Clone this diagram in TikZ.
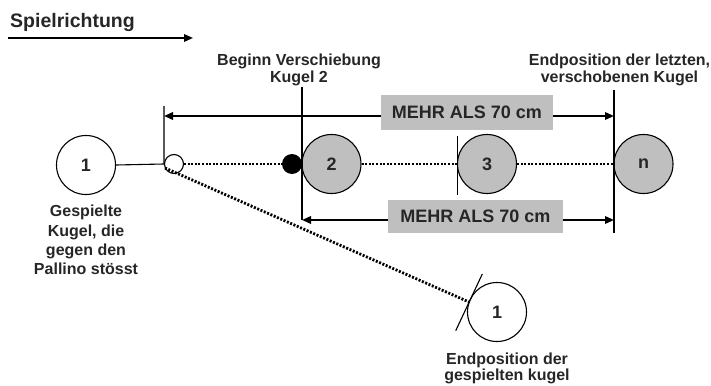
\documentclass[tikz,border=0pt]{standalone}
\usepackage{fontspec}
\setmainfont{Liberation Sans}
\usetikzlibrary{arrows.meta}
\definecolor{txtc}{rgb}{0.15,0.15,0.15}
\definecolor{ballgray}{rgb}{0.75,0.75,0.75}
\definecolor{boxgray}{rgb}{0.75,0.75,0.75}
\begin{document}
\begin{tikzpicture}[x=1pt,y=-1pt,
  txt/.style={text=txtc,font=\bfseries\fontsize{16}{17}\selectfont,align=center,inner sep=0pt},
  ballw/.style={circle,draw,line width=1.1pt,fill=white,minimum size=59pt,inner sep=0pt,text=txtc,font=\bfseries\fontsize{18}{18}\selectfont},
  ballg/.style={ballw,fill=ballgray},
  thin line/.style={line width=1.1pt},
  dots/.style={line width=2.8pt,dash pattern=on 2pt off 1.6pt},
  dimarr/.style={line width=1.9pt,{Triangle[length=9pt,width=7.5pt]}-{Triangle[length=9pt,width=7.5pt]}},
  labbox/.style={fill=boxgray,text=txtc,font=\bfseries\fontsize{18}{18}\selectfont,inner sep=0pt}
]
\useasboundingbox (0,0) rectangle (711,385);

% Spielrichtung
\node[txt,font=\bfseries\fontsize{19.5}{20}\selectfont,anchor=base west] (title) at (10,28) {Spielrichtung};
\coordinate (sa) at (8,38);
\coordinate (sb) at (193,38);
\draw[line width=1.9pt,-{Triangle[length=9pt,width=7.5pt]}] (sa) -- (sb);

% balls
\node[ballw] (b1) at (86,165) {1};
\node[circle,draw,thin line,fill=white,minimum size=19pt,inner sep=0pt] (sm) at (174,164) {};
\node[circle,fill=black,minimum size=20pt,inner sep=0pt] (bk) at (292,164) {};
\node[ballg] (b2) at (331.5,164) {2};
\node[ballg] (b3) at (487,164) {3};
\node[ballg] (bn) at (643.5,164) {n};
\node[ballw] (b1e) at (497,312) {1};

% texts
\node[txt,anchor=north,font=\bfseries\fontsize{16}{17}\selectfont] (beg) at (299,54) {Beginn Verschiebung\\Kugel 2};
\node[txt,anchor=north,font=\bfseries\fontsize{16}{17}\selectfont] (endl) at (619.5,54) {Endposition der letzten,\\verschobenen Kugel};
\node[txt,anchor=north,font=\bfseries\fontsize{16}{19.4}\selectfont] (gesp) at (86,205) {Gespielte\\Kugel, die\\gegen den\\Pallino stösst};
\node[txt,anchor=north,font=\bfseries\fontsize{16}{16.5}\selectfont] (endg) at (507,352.5) {Endposition der\\gespielten kugel};

% solid connector
\draw[thin line] (b1.east) -- (sm.west);

% vertical reference lines
\coordinate (v1t) at (164,106);
\draw[thin line] (v1t) -- (sm.west);
\coordinate (v2t) at (302,87);
\coordinate (v2b) at (302,220);
\draw[thin line] (v2t) -- (v2b);
\coordinate (v3t) at (457.5,136);
\coordinate (v3b) at (457.5,195);
\draw[thin line] (v3t) -- (v3b);
\coordinate (vnt) at (614,90);
\coordinate (vnb) at (614,233);
\draw[thin line] (vnt) -- (vnb);
\coordinate (st) at (482.3,274);
\coordinate (sbt) at (455.7,330.7);
\draw[thin line] (st) -- (sbt);

% dotted paths
\draw[dots] (sm.east) -- (bk.west);
\draw[dots] (b2.east) -- (b3.west);
\draw[dots] (b3.east) -- (bn.west);
\coordinate (ds) at (165,168);
\coordinate (de) at (469,302);
\draw[dots] (ds) -- (de);

% dimension arrows
\coordinate (d1l) at (164,116);
\coordinate (d1r) at (614,116);
\draw[dimarr] (d1l) -- (d1r);
\node[labbox,minimum width=172pt,minimum height=34pt] (m1) at (467,112.5) {MEHR ALS 70 cm};
\coordinate (d2r) at (614,220);
\draw[dimarr] (v2b) -- (d2r);
\node[labbox,minimum width=175pt,minimum height=33pt] (m2) at (475.5,216.5) {MEHR ALS 70 cm};
\end{tikzpicture}
\end{document}
